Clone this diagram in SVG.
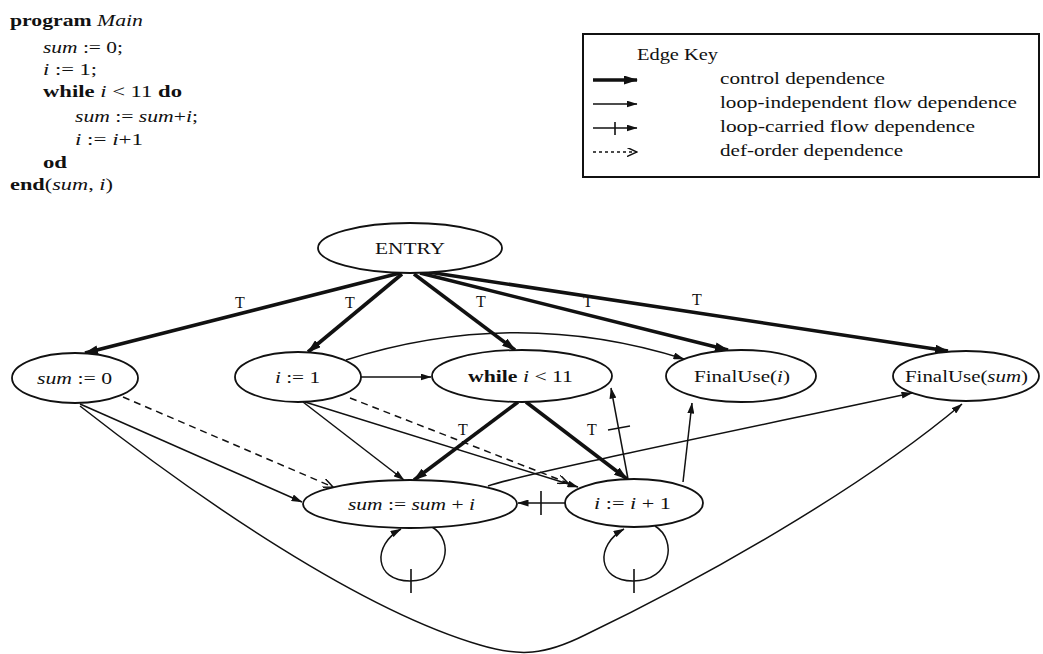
<svg xmlns="http://www.w3.org/2000/svg" width="1043" height="654" viewBox="0 0 1043 654">
<defs>
<marker id="thick" markerUnits="userSpaceOnUse" markerWidth="14" markerHeight="9" refX="13" refY="4.5" orient="auto"><path d="M0,0 L14,4.5 L0,9 z" fill="#111"/></marker>
<marker id="thin" markerUnits="userSpaceOnUse" markerWidth="11" markerHeight="7" refX="10.5" refY="3.5" orient="auto"><path d="M0,0 L11,3.5 L0,7 z" fill="#111"/></marker>
<marker id="open" markerUnits="userSpaceOnUse" markerWidth="11" markerHeight="9" refX="10" refY="4.5" orient="auto"><path d="M0,0 L10,4.5 L0,9" fill="none" stroke="#111" stroke-width="1.5"/></marker>
<style>
text{font-family:"Liberation Serif","Times New Roman",serif;fill:#111}
.code{font-size:16px}
.node{font-size:17px}
.lab{font-size:16px}
.key{font-size:16px}
.b{font-weight:bold}
.i{font-style:italic}
ellipse{fill:#fff;stroke:#111;stroke-width:1.8}
.ctl{fill:none;stroke:#111;stroke-width:3.6;marker-end:url(#thick)}
.flow{fill:none;stroke:#111;stroke-width:1.5;marker-end:url(#thin)}
.def{fill:none;stroke:#111;stroke-width:1.5;stroke-dasharray:7 5;marker-end:url(#open)}
.tick{fill:none;stroke:#111;stroke-width:1.6}
</style>
</defs>
<rect width="1043" height="654" fill="#fff"/>

<g id="program">
<text class="code" x="10" y="26" textLength="133" lengthAdjust="spacingAndGlyphs"><tspan class="b">program </tspan><tspan class="i">Main</tspan></text>
<text class="code" x="43" y="53" textLength="80" lengthAdjust="spacingAndGlyphs"><tspan class="i">sum</tspan> := 0;</text>
<text class="code" x="43" y="75" textLength="54" lengthAdjust="spacingAndGlyphs"><tspan class="i">i</tspan> := 1;</text>
<text class="code" x="43" y="97" textLength="139" lengthAdjust="spacingAndGlyphs"><tspan class="b">while </tspan><tspan class="i">i</tspan> &lt; 11 <tspan class="b">do</tspan></text>
<text class="code" x="75" y="122" textLength="123" lengthAdjust="spacingAndGlyphs"><tspan class="i">sum</tspan> := <tspan class="i">sum</tspan>+<tspan class="i">i</tspan>;</text>
<text class="code" x="75" y="145" textLength="68" lengthAdjust="spacingAndGlyphs"><tspan class="i">i</tspan> := <tspan class="i">i</tspan>+1</text>
<text class="code b" x="43" y="168" textLength="24" lengthAdjust="spacingAndGlyphs">od</text>
<text class="code" x="10" y="190" textLength="103" lengthAdjust="spacingAndGlyphs"><tspan class="b">end</tspan>(<tspan class="i">sum</tspan>, <tspan class="i">i</tspan>)</text>
</g>

<g id="legend">
<rect x="583" y="34" width="456" height="143" fill="#fff" stroke="#111" stroke-width="2"/>
<text class="key" x="637" y="60" textLength="81" lengthAdjust="spacingAndGlyphs">Edge Key</text>
<line class="ctl" x1="593" y1="80" x2="637" y2="80"/>
<text class="key" x="720" y="84" textLength="165" lengthAdjust="spacingAndGlyphs">control dependence</text>
<line class="flow" x1="593" y1="104" x2="637" y2="104"/>
<text class="key" x="720" y="108" textLength="297" lengthAdjust="spacingAndGlyphs">loop-independent flow dependence</text>
<line class="flow" x1="593" y1="128" x2="637" y2="128"/>
<line class="tick" x1="615" y1="122" x2="615" y2="135"/>
<text class="key" x="720" y="132" textLength="255" lengthAdjust="spacingAndGlyphs">loop-carried flow dependence</text>
<line class="def" x1="593" y1="152" x2="637" y2="152" style="stroke-dasharray:3 3"/>
<text class="key" x="720" y="156" textLength="183" lengthAdjust="spacingAndGlyphs">def-order dependence</text>
</g>

<g id="connectors">
<!-- control dependences -->
<path class="ctl" d="M400 273 L85 353"/>
<path class="ctl" d="M402 274 L308 352"/>
<path class="ctl" d="M414 274 L515 350"/>
<path class="ctl" d="M420 273 L728 350"/>
<path class="ctl" d="M428 272 L948 351"/>
<path class="ctl" d="M518 402 L414 480"/>
<path class="ctl" d="M526 402 L627 479"/>
<!-- flow dependences -->
<path class="flow" d="M361 377 L431 377"/>
<path class="flow" d="M346 360 Q516 306 684 359"/>
<path class="flow" d="M303 402 L404 480"/>
<path class="flow" d="M305 402 L578 487"/>
<path class="flow" d="M80 404 L302 502"/>
<path class="flow" d="M80 406 C200 500 360 610 480 645 C520 657 545 655 585 635 C700 580 860 490 962 404"/>
<path class="flow" d="M488 486 C520 475 700 438 912 393"/>
<path class="flow" d="M683 482 L692 403"/>
<!-- def-order dependences -->
<path class="def" d="M350 398 L568 483"/>
<path class="def" d="M123 397 L333 487"/>
<!-- loop-carried dependences -->
<path class="flow" d="M628 479 L611 388"/>
<line class="tick" x1="608" y1="430" x2="630" y2="426"/>
<path class="flow" d="M565 503 L518 503"/>
<line class="tick" x1="541" y1="491" x2="541" y2="515"/>
<path class="flow" d="M432 527 C455 540 448 581 410 581 C374 581 372 545 401 529"/>
<line class="tick" x1="411" y1="569" x2="411" y2="593"/>
<path class="flow" d="M655 526 C678 540 671 581 633 581 C597 581 595 545 624 529"/>
<line class="tick" x1="634" y1="569" x2="634" y2="593"/>
<!-- labels -->
<text class="lab" x="240" y="308" text-anchor="middle">T</text>
<text class="lab" x="350" y="308" text-anchor="middle">T</text>
<text class="lab" x="481" y="307" text-anchor="middle">T</text>
<text class="lab" x="588" y="307" text-anchor="middle">T</text>
<text class="lab" x="697" y="305" text-anchor="middle">T</text>
<text class="lab" x="463" y="435" text-anchor="middle">T</text>
<text class="lab" x="592" y="435" text-anchor="middle">T</text>
</g>

<g id="n-entry"><ellipse cx="410" cy="248" rx="92" ry="25"/><text class="node" x="375" y="254" textLength="70" lengthAdjust="spacingAndGlyphs">ENTRY</text></g>
<g id="n-sum0"><ellipse cx="75" cy="378" rx="63" ry="25"/><text class="node" x="37" y="384" textLength="75" lengthAdjust="spacingAndGlyphs"><tspan class="i">sum</tspan> := 0</text></g>
<g id="n-i1"><ellipse cx="298" cy="377" rx="63" ry="25"/><text class="node" x="275" y="383" textLength="45" lengthAdjust="spacingAndGlyphs"><tspan class="i">i</tspan> := 1</text></g>
<g id="n-while"><ellipse cx="522" cy="376" rx="90" ry="26"/><text class="node" x="468" y="382" textLength="105" lengthAdjust="spacingAndGlyphs"><tspan class="b">while </tspan><tspan class="i">i</tspan> &lt; 11</text></g>
<g id="n-finaluse-i"><ellipse cx="741" cy="376" rx="75" ry="26"/><text class="node" x="694" y="382" textLength="96" lengthAdjust="spacingAndGlyphs">FinalUse(<tspan class="i">i</tspan>)</text></g>
<g id="n-finaluse-sum"><ellipse cx="966" cy="376" rx="73" ry="25"/><text class="node" x="905" y="382" textLength="123" lengthAdjust="spacingAndGlyphs">FinalUse(<tspan class="i">sum</tspan>)</text></g>
<g id="n-sumsum"><ellipse cx="410" cy="504" rx="107" ry="24"/><text class="node" x="348" y="510" textLength="127" lengthAdjust="spacingAndGlyphs"><tspan class="i">sum</tspan> := <tspan class="i">sum</tspan> + <tspan class="i">i</tspan></text></g>
<g id="n-ii1"><ellipse cx="634" cy="503" rx="69" ry="24"/><text class="node" x="594" y="509" textLength="77" lengthAdjust="spacingAndGlyphs"><tspan class="i">i</tspan> := <tspan class="i">i</tspan> + 1</text></g>
</svg>
